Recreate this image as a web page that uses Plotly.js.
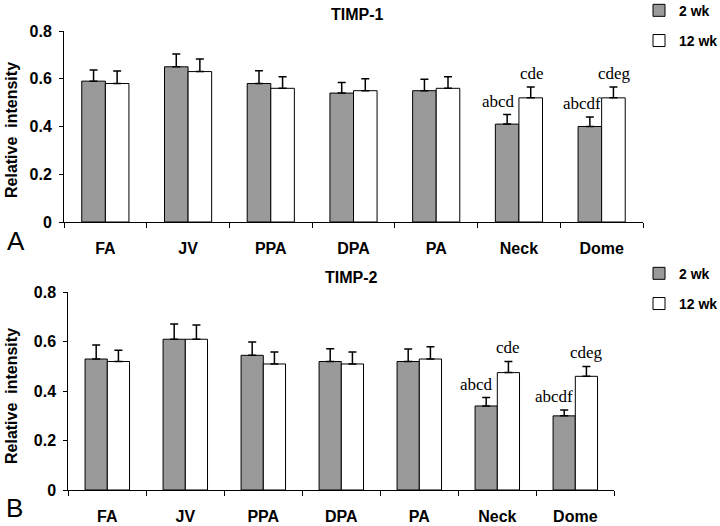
<!DOCTYPE html>
<html>
<head>
<meta charset="utf-8">
<script src="https://cdn.plot.ly/plotly-3.0.1.min.js"></script>
<style>html,body{margin:0;padding:0;background:#fff;}#chart{width:720px;height:526px;}</style>
</head>
<body>
<div id="chart"></div>
<script>
// ---- data ----
const categories = ['FA', 'JV', 'PPA', 'DPA', 'PA', 'Neck', 'Dome'];
const seriesNames = ['2 wk', '12 wk'];

const timp1_2wk      = [0.59, 0.65, 0.58, 0.54, 0.55, 0.41, 0.40];
const timp1_2wk_err  = [0.047, 0.054, 0.054, 0.044, 0.048, 0.040, 0.040];
const timp1_12wk     = [0.58, 0.63, 0.56, 0.55, 0.56, 0.52, 0.52];
const timp1_12wk_err = [0.052, 0.053, 0.048, 0.050, 0.048, 0.045, 0.045];

const timp2_2wk      = [0.53, 0.61, 0.545, 0.52, 0.52, 0.34, 0.30];
const timp2_2wk_err  = [0.057, 0.062, 0.054, 0.052, 0.051, 0.034, 0.024];
const timp2_12wk     = [0.52, 0.61, 0.51, 0.51, 0.53, 0.475, 0.46];
const timp2_12wk_err = [0.046, 0.058, 0.048, 0.048, 0.050, 0.045, 0.040];

const sig1_2wk  = ['', '', '', '', '', 'abcd', 'abcdf'];
const sig1_12wk = ['', '', '', '', '', 'cde', 'cdeg'];
const sig2_2wk  = ['', '', '', '', '', 'abcd', 'abcdf'];
const sig2_12wk = ['', '', '', '', '', 'cde', 'cdeg'];

const yTickVals = [0, 0.2, 0.4, 0.6, 0.8];
const yTickText = ['0', '0.2', '0.4', '0.6', '0.8'];

// ---- styling ----
const FONT = 'Liberation Sans, Arial, sans-serif';
const GRAY = '#9a9a9a';
const zeros = categories.map(() => 0);

function barTrace(y, err, name, color, xa, ya, legend, showlegend) {
  return {
    type: 'bar', x: categories, y: y, name: name,
    xaxis: xa, yaxis: ya, legend: legend, legendgroup: name + legend,
    showlegend: showlegend,
    marker: {color: color, line: {color: '#000', width: 1}},
    error_y: {type: 'data', symmetric: false, array: err, arrayminus: zeros,
              color: '#000', thickness: 1.5, width: 4}
  };
}

const data = [
  barTrace(timp1_2wk, timp1_2wk_err, seriesNames[0], GRAY, 'x', 'y', 'legend', true),
  barTrace(timp1_12wk, timp1_12wk_err, seriesNames[1], '#ffffff', 'x', 'y', 'legend', true),
  barTrace(timp2_2wk, timp2_2wk_err, seriesNames[0], GRAY, 'x2', 'y2', 'legend2', true),
  barTrace(timp2_12wk, timp2_12wk_err, seriesNames[1], '#ffffff', 'x2', 'y2', 'legend2', true)
];

function sigAnnots(labels, vals, errs, xref, yref, xshift) {
  const out = [];
  labels.forEach((t, i) => {
    if (!t) return;
    out.push({
      text: t, x: categories[i], y: vals[i] + errs[i], xref: xref, yref: yref,
      xanchor: 'center', yanchor: 'bottom', xshift: xshift, yshift: 2,
      showarrow: false,
      font: {family: 'Liberation Serif, Times New Roman, serif', size: 17, color: '#000'}
    });
  });
  return out;
}

const xAxisCommon = {
  type: 'category', showline: true, linecolor: '#000', linewidth: 1,
  ticks: 'outside', tickson: 'boundaries', ticklen: 5, tickcolor: '#000', tickwidth: 1,
  showgrid: false, zeroline: false, ticklabelstandoff: 12,
  tickfont: {family: FONT, size: 16, color: '#000', weight: 'bold'}
};
const yAxisCommon = {
  range: [0, 0.8], showline: true, linecolor: '#000', linewidth: 1,
  ticks: 'outside', ticklen: 4, tickcolor: '#000', tickwidth: 1,
  tickvals: yTickVals, ticktext: yTickText,
  showgrid: false, zeroline: false, ticklabelstandoff: 4,
  tickfont: {family: FONT, size: 16, color: '#000', weight: 'bold'}
};

const legendCommon = {
  x: 0.8875, xanchor: 'left', yanchor: 'top',
  bgcolor: 'rgba(0,0,0,0)', tracegroupgap: 9, traceorder: 'grouped',
  font: {family: FONT, size: 14, color: '#000', weight: 'bold'},
  itemwidth: 30
};

const titleFont = {family: FONT, size: 16, color: '#000', weight: 'bold'};

const layout = {
  width: 720, height: 526,
  margin: {l: 0, r: 0, t: 0, b: 0, autoexpand: false},
  paper_bgcolor: '#fff', plot_bgcolor: '#fff',
  bargap: 0.43, bargroupgap: 0, barmode: 'group',
  xaxis:  Object.assign({}, xAxisCommon, {domain: [64/720, 643/720], anchor: 'y'}),
  yaxis:  Object.assign({}, yAxisCommon, {domain: [(526-222)/526, (526-31)/526], anchor: 'x'}),
  xaxis2: Object.assign({}, xAxisCommon, {domain: [68.3/720, 614.3/720], anchor: 'y2'}),
  yaxis2: Object.assign({}, yAxisCommon, {domain: [(526-490)/526, (526-292.3)/526], anchor: 'x2'}),
  legend:  Object.assign({}, legendCommon, {y: 1.01}),
  legend2: Object.assign({}, legendCommon, {y: 0.51}),
  annotations: [
    {text: 'TIMP-1', x: 357/720, y: 1 - 15/526, xref: 'paper', yref: 'paper', showarrow: false,
     xanchor: 'center', yanchor: 'middle', font: titleFont},
    {text: 'TIMP-2', x: 351/720, y: 1 - 277/526, xref: 'paper', yref: 'paper', showarrow: false,
     xanchor: 'center', yanchor: 'middle', font: titleFont},
    {text: 'Relative  intensity', x: 11/720, y: 1 - 130/526, xref: 'paper', yref: 'paper',
     textangle: -90, showarrow: false, xanchor: 'center', yanchor: 'middle', font: titleFont},
    {text: 'Relative  intensity', x: 11/720, y: 1 - 396/526, xref: 'paper', yref: 'paper',
     textangle: -90, showarrow: false, xanchor: 'center', yanchor: 'middle', font: titleFont},
    {text: 'A', x: 16/720, y: 1 - 241/526, xref: 'paper', yref: 'paper', showarrow: false,
     xanchor: 'center', yanchor: 'middle', font: {family: FONT, size: 26, color: '#000'}},
    {text: 'B', x: 14/720, y: 1 - 508/526, xref: 'paper', yref: 'paper', showarrow: false,
     xanchor: 'center', yanchor: 'middle', font: {family: FONT, size: 26, color: '#000'}}
  ].concat(
    sigAnnots(sig1_2wk, timp1_2wk, timp1_2wk_err, 'x', 'y', -20),
    sigAnnots(sig1_12wk, timp1_12wk, timp1_12wk_err, 'x', 'y', 13),
    sigAnnots(sig2_2wk, timp2_2wk, timp2_2wk_err, 'x2', 'y2', -21),
    sigAnnots(sig2_12wk, timp2_12wk, timp2_12wk_err, 'x2', 'y2', 11)
  )
};

Plotly.newPlot('chart', data, layout, {staticPlot: true, displayModeBar: false});
</script>
</body>
</html>
